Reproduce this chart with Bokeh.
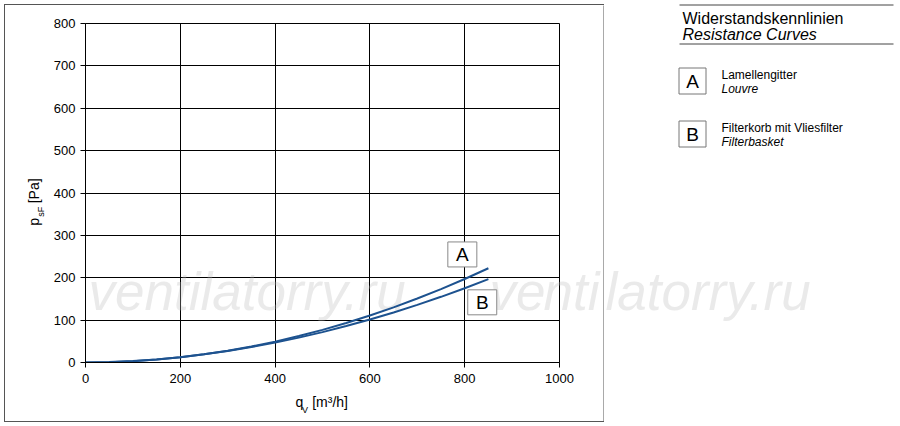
from bokeh.plotting import figure
from bokeh.layouts import row, column
from bokeh.models import Range1d, Label, ColumnDataSource, LinearAxis, FixedTicker, Spacer
from bokeh.core.properties import value
from bokeh.embed import file_html
from bokeh.resources import INLINE

# ---- data -------------------------------------------------------------
flow = [0, 50, 100, 150, 200, 250, 300, 350, 400, 450, 500, 550, 600, 650, 700, 750, 800, 850]
curve_a = [0, 0.8, 3.1, 6.9, 12.3, 19.3, 27.7, 37.7, 49.3, 62.4, 77, 93.2, 111, 130, 151, 173, 197, 222.5]
curve_b = [0, 0.9, 3.4, 7.3, 12.6, 19.2, 27.2, 36.4, 46.9, 58.7, 71.7, 86, 101.4, 118, 135.9, 155, 175.2, 196.6]
x_ticks = [0, 200, 400, 600, 800, 1000]
y_ticks = [0, 100, 200, 300, 400, 500, 600, 700, 800]
curve_names = ["A", "B"]
tag_x = [795, 837]
tag_y = [255, 142]
x_label_main = ["q", "[m³/h]"]
x_label_sub = ["V"]
y_label_main = ["p", "[Pa]"]
y_label_sub = ["sF"]
title_de = "Widerstandskennlinien"
title_en = "Resistance Curves"
legend_de = ["Lamellengitter", "Filterkorb mit Vliesfilter"]
legend_en = ["Louvre", "Filterbasket"]
watermark = "ventilatorry.ru"
watermark_parts = ["ve", "nti", "latorry.ru"]

FONT = "Liberation Sans"
LINE = "#1d528f"
BOX = "#555555"
WM_COLOR, WM_ALPHA, WM_SIZE = "#bbbbbb", 0.3, "53px"

# page geometry (pixels)
OX, OY = 5, 5                 # chart canvas origin inside the outer box
CW, CH = 598, 416             # chart canvas size
FL, FT, FR, FB = 85, 23, 559, 362   # frame edges on the page
WM_Y = 291                    # watermark centre line on the page


def strip(w, h):
    s = figure(width=w, height=h, title=None, toolbar_location=None, output_backend="svg",
               x_axis_type=None, y_axis_type=None,
               min_border_left=0, min_border_right=0, min_border_top=0, min_border_bottom=0)
    s.background_fill_color = BOX
    s.border_fill_color = BOX
    s.outline_line_color = None
    s.frame_align = False
    return s


def bar(w, h):
    return Spacer(width=w, height=h, styles={"background-color": BOX})


# ---- chart ------------------------------------------------------------
p = figure(width=CW, height=CH, x_range=Range1d(0, 1000), y_range=Range1d(0, 800),
           output_backend="svg", toolbar_location=None,
           min_border_left=FL - OX, min_border_right=OX + CW - FR,
           min_border_top=FT - OY, min_border_bottom=OY + CH - FB)
p.frame_align = False
p.background_fill_color = "white"
p.border_fill_color = "white"
p.outline_line_color = "black"

for ax, ticks in ((p.xaxis[0], x_ticks), (p.yaxis[0], y_ticks)):
    ax.ticker = ticks
    ax.axis_line_color = "black"
    ax.major_tick_line_color = "black"
    ax.major_tick_out = 5
    ax.major_tick_in = 0
    ax.minor_tick_line_color = None
    ax.major_label_text_font = FONT
    ax.major_label_text_font_size = "13px"
    ax.major_label_text_color = "black"
p.xaxis[0].major_label_standoff = 6
p.yaxis[0].major_label_standoff = 5

for g in (p.xgrid, p.ygrid):
    g.grid_line_color = "black"
    g.grid_line_width = 1
    g.grid_line_alpha = 1

px_x = (FR - FL) / 1000.0
px_y = (FB - FT) / 800.0


def label_axis(side, ticks, texts, size, standoff, orient=None, color="black", alpha=1.0,
               style="normal"):
    ax = LinearAxis(ticker=FixedTicker(ticks=ticks),
                    major_label_overrides=dict(zip(ticks, texts)))
    ax.axis_line_color = None
    ax.major_tick_line_color = None
    ax.minor_tick_line_color = None
    ax.major_tick_out = 0
    ax.major_tick_in = 0
    ax.minor_tick_out = 0
    ax.minor_tick_in = 0
    ax.major_label_text_font = FONT
    ax.major_label_text_font_size = size
    ax.major_label_text_font_style = style
    ax.major_label_text_color = color
    ax.major_label_text_alpha = alpha
    ax.major_label_standoff = standoff
    if orient is not None:
        ax.major_label_orientation = orient
    p.add_layout(ax, side)


label_axis("below", [451, 516], x_label_main, "14px", 8)
label_axis("below", [463], x_label_sub, "9px", -8)
label_axis("left", [356], y_label_sub, "9px", 4, "parallel")
label_axis("left", [332, 405], y_label_main, "14px", -9, "parallel")

# watermark (first copy whole, second copy split over the canvases)
wm_y_data = round((FB - WM_Y) / px_y, 1)
p.add_layout(Label(x=(88 - FL) / px_x, y=wm_y_data, text=watermark,
                   text_font=FONT, text_font_size=WM_SIZE, text_font_style="italic",
                   text_color=WM_COLOR, text_alpha=WM_ALPHA,
                   text_baseline="middle", text_align="left", level="underlay"))
p.add_layout(Label(x=(489 - FL) / px_x, y=wm_y_data, text=watermark_parts[0],
                   text_font=FONT, text_font_size=WM_SIZE, text_font_style="italic",
                   text_color=WM_COLOR, text_alpha=WM_ALPHA,
                   text_baseline="middle", text_align="left", level="underlay"))
label_axis("right", [wm_y_data], [watermark_parts[1]], WM_SIZE, -16, color=WM_COLOR,
           alpha=WM_ALPHA, style="italic")

# curves
src = ColumnDataSource(dict(q=flow, a=curve_a, b=curve_b))
p.line("q", "a", source=src, line_color=LINE, line_width=2)
p.line("q", "b", source=src, line_color=LINE, line_width=2)

# curve tags
tsrc = ColumnDataSource(dict(x=tag_x, y=tag_y, t=curve_names))
p.rect("x", "y", width=29, height=25, width_units="screen", height_units="screen",
       source=tsrc, fill_color="white", line_color="#888888", line_width=1)
p.text("x", "y", text="t", source=tsrc, text_font=value(FONT), text_font_size=value("19px"),
       text_align="center", text_baseline="middle", text_color="black")

chart_block = column(
    Spacer(width=OX + CW + 1, height=OY - 1),
    row(Spacer(width=OX - 1, height=1), bar(CW + 2, 1)),
    row(Spacer(width=OX - 1, height=CH), bar(1, CH), p, strip(1, CH)),
    row(Spacer(width=OX - 1, height=1), bar(CW + 2, 1)),
)

# ---- legend panel -------------------------------------------------------
LX0 = OX + CW + 1
LW, H = 900 - LX0, 426
lg = figure(width=LW, height=H, title=None, x_range=Range1d(LX0, 900), y_range=Range1d(H, 0),
            output_backend="svg", toolbar_location=None,
            x_axis_type=None, y_axis_type=None,
            min_border_left=0, min_border_right=0, min_border_top=0, min_border_bottom=0)
lg.frame_align = False
lg.outline_line_color = None
lg.background_fill_color = "white"
lg.border_fill_color = "white"
lg.xgrid.visible = False
lg.ygrid.visible = False

lg.text([LX0 + 1], [WM_Y], text=[watermark_parts[2]], text_font=value(FONT),
        text_font_size=value(WM_SIZE), text_font_style="italic", text_color=WM_COLOR,
        text_alpha=WM_ALPHA, text_baseline="middle", text_align="left")

lg.segment(x0=[679, 679], y0=[4.5, 43.5], x1=[893, 893], y1=[4.5, 43.5],
           line_color="#444444", line_width=1)
lg.text([682], [17.5], text=[title_de], text_font=value(FONT), text_font_size=value("16px"),
        text_baseline="middle", text_align="left", text_color="black")
lg.text([682], [34], text=[title_en], text_font=value(FONT), text_font_size=value("16px"),
        text_font_style="italic", text_baseline="middle", text_align="left", text_color="black")

box_top = [67.5, 120.5]
lg.quad(left=[678.5, 678.5], right=[705.5, 705.5], top=box_top, bottom=[b + 26 for b in box_top],
        fill_color=None, line_color="#777777", line_width=1)
lg.text([692, 692], [b + 13.5 for b in box_top], text=curve_names, text_font=value(FONT),
        text_font_size=value("19px"), text_align="center", text_baseline="middle", text_color="black")
lg.text([721, 721], [b + 6.5 for b in box_top], text=legend_de, text_font=value(FONT),
        text_font_size=value("12px"), text_align="left", text_baseline="middle", text_color="black")
lg.text([721, 721], [b + 21 for b in box_top], text=legend_en, text_font=value(FONT),
        text_font_size=value("12px"), text_font_style="italic", text_align="left",
        text_baseline="middle", text_color="black")

layout = row(chart_block, lg)
open("out.html", "w").write(file_html(layout, INLINE))
